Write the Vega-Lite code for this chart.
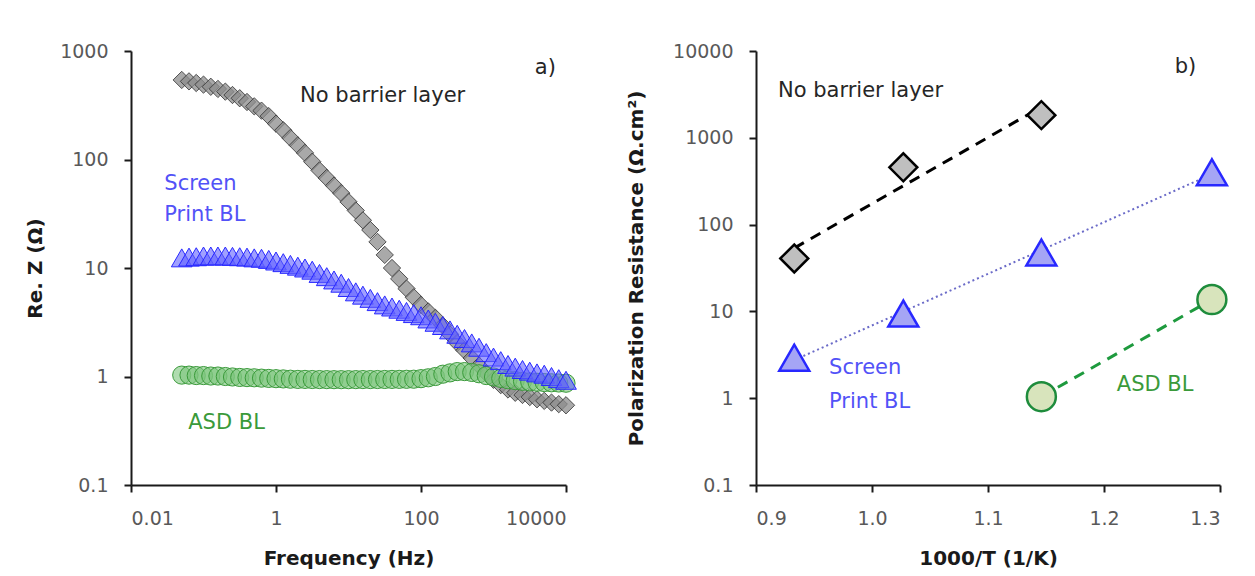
{
"$schema": "https://vega.github.io/schema/vega-lite/v6.json",
"autosize": {"type": "none"},
"padding": {"left": 131, "top": 51, "right": 1124, "bottom": 525},
"background": "white",
"bounds": "flush",
"spacing": 190,
"config": {
  "view": {"stroke": null},
  "font": "DejaVu Sans",
  "axis": {"grid": false, "domainColor": "#1a1a1a", "domainWidth": 2, "tickColor": "#1a1a1a", "tickWidth": 2, "tickSize": 7,
    "labelFont": "DejaVu Sans", "labelFontSize": 19, "labelColor": "#595959",
    "titleFont": "DejaVu Sans", "titleFontSize": 20, "titleFontWeight": "bold", "titleColor": "#1a1a1a"}
},
"datasets": {
  "eis": [
    {"s":"NB","f":0.0501,"z":541},{"s":"NB","f":0.0631,"z":525},{"s":"NB","f":0.0794,"z":507},{"s":"NB","f":0.1,"z":490},{"s":"NB","f":0.126,"z":468},{"s":"NB","f":0.158,"z":447},{"s":"NB","f":0.2,"z":422},{"s":"NB","f":0.251,"z":393},{"s":"NB","f":0.316,"z":367},{"s":"NB","f":0.398,"z":339},{"s":"NB","f":0.501,"z":309},{"s":"NB","f":0.631,"z":282},{"s":"NB","f":0.794,"z":251},{"s":"NB","f":1,"z":214},{"s":"NB","f":1.26,"z":186},{"s":"NB","f":1.58,"z":158},{"s":"NB","f":2,"z":135},{"s":"NB","f":2.51,"z":115},{"s":"NB","f":3.16,"z":95.5},{"s":"NB","f":3.98,"z":79.4},{"s":"NB","f":5.01,"z":67.6},{"s":"NB","f":6.31,"z":57.5},{"s":"NB","f":7.94,"z":49},{"s":"NB","f":10,"z":40.7},{"s":"NB","f":12.6,"z":33.9},{"s":"NB","f":15.8,"z":27.5},{"s":"NB","f":20,"z":22.4},{"s":"NB","f":25.1,"z":17.4},{"s":"NB","f":31.6,"z":13.2},{"s":"NB","f":39.8,"z":10},{"s":"NB","f":50.1,"z":7.94},{"s":"NB","f":63.1,"z":6.46},{"s":"NB","f":79.4,"z":5.37},{"s":"NB","f":100,"z":4.57},{"s":"NB","f":126,"z":3.98},{"s":"NB","f":158,"z":3.47},{"s":"NB","f":200,"z":2.95},{"s":"NB","f":251,"z":2.45},{"s":"NB","f":316,"z":2.04},{"s":"NB","f":398,"z":1.74},{"s":"NB","f":501,"z":1.48},{"s":"NB","f":631,"z":1.26},{"s":"NB","f":794,"z":1.07},{"s":"NB","f":1000,"z":0.933},{"s":"NB","f":1259,"z":0.832},{"s":"NB","f":1585,"z":0.759},{"s":"NB","f":1995,"z":0.708},{"s":"NB","f":2512,"z":0.676},{"s":"NB","f":3162,"z":0.646},{"s":"NB","f":3981,"z":0.617},{"s":"NB","f":5012,"z":0.596},{"s":"NB","f":6310,"z":0.575},{"s":"NB","f":7943,"z":0.556},{"s":"NB","f":10000,"z":0.543},
    {"s":"ASD","f":0.0501,"z":1.03},{"s":"ASD","f":0.0631,"z":1.03},{"s":"ASD","f":0.0794,"z":1.02},{"s":"ASD","f":0.1,"z":1.02},{"s":"ASD","f":0.126,"z":1.01},{"s":"ASD","f":0.158,"z":1.01},{"s":"ASD","f":0.2,"z":1.0},{"s":"ASD","f":0.251,"z":0.99},{"s":"ASD","f":0.316,"z":0.98},{"s":"ASD","f":0.398,"z":0.977},{"s":"ASD","f":0.501,"z":0.973},{"s":"ASD","f":0.631,"z":0.966},{"s":"ASD","f":0.794,"z":0.96},{"s":"ASD","f":1,"z":0.955},{"s":"ASD","f":1.26,"z":0.95},{"s":"ASD","f":1.58,"z":0.944},{"s":"ASD","f":2,"z":0.94},{"s":"ASD","f":2.51,"z":0.94},{"s":"ASD","f":3.16,"z":0.938},{"s":"ASD","f":3.98,"z":0.937},{"s":"ASD","f":5.01,"z":0.936},{"s":"ASD","f":6.31,"z":0.935},{"s":"ASD","f":7.94,"z":0.935},{"s":"ASD","f":10,"z":0.935},{"s":"ASD","f":12.6,"z":0.936},{"s":"ASD","f":15.8,"z":0.937},{"s":"ASD","f":20,"z":0.937},{"s":"ASD","f":25.1,"z":0.938},{"s":"ASD","f":31.6,"z":0.939},{"s":"ASD","f":39.8,"z":0.94},{"s":"ASD","f":50.1,"z":0.941},{"s":"ASD","f":63.1,"z":0.942},{"s":"ASD","f":79.4,"z":0.944},{"s":"ASD","f":100,"z":0.955},{"s":"ASD","f":126,"z":0.973},{"s":"ASD","f":158,"z":1.0},{"s":"ASD","f":200,"z":1.05},{"s":"ASD","f":251,"z":1.08},{"s":"ASD","f":316,"z":1.11},{"s":"ASD","f":398,"z":1.11},{"s":"ASD","f":501,"z":1.09},{"s":"ASD","f":631,"z":1.06},{"s":"ASD","f":794,"z":1.02},{"s":"ASD","f":1000,"z":0.99},{"s":"ASD","f":1259,"z":0.96},{"s":"ASD","f":1585,"z":0.933},{"s":"ASD","f":1995,"z":0.916},{"s":"ASD","f":2512,"z":0.902},{"s":"ASD","f":3162,"z":0.891},{"s":"ASD","f":3981,"z":0.885},{"s":"ASD","f":5012,"z":0.879},{"s":"ASD","f":6310,"z":0.875},{"s":"ASD","f":7943,"z":0.871},{"s":"ASD","f":10000,"z":0.867},
    {"s":"SP","f":0.0501,"z":12.4},{"s":"SP","f":0.0631,"z":12.6},{"s":"SP","f":0.0794,"z":12.7},{"s":"SP","f":0.1,"z":12.9},{"s":"SP","f":0.126,"z":12.9},{"s":"SP","f":0.158,"z":12.9},{"s":"SP","f":0.2,"z":12.9},{"s":"SP","f":0.251,"z":12.8},{"s":"SP","f":0.316,"z":12.7},{"s":"SP","f":0.398,"z":12.6},{"s":"SP","f":0.501,"z":12.4},{"s":"SP","f":0.631,"z":12.3},{"s":"SP","f":0.794,"z":12.0},{"s":"SP","f":1,"z":11.6},{"s":"SP","f":1.26,"z":11.2},{"s":"SP","f":1.58,"z":10.8},{"s":"SP","f":2,"z":10.4},{"s":"SP","f":2.51,"z":10.0},{"s":"SP","f":3.16,"z":9.55},{"s":"SP","f":3.98,"z":8.91},{"s":"SP","f":5.01,"z":8.32},{"s":"SP","f":6.31,"z":7.76},{"s":"SP","f":7.94,"z":7.24},{"s":"SP","f":10,"z":6.61},{"s":"SP","f":12.6,"z":6.03},{"s":"SP","f":15.8,"z":5.62},{"s":"SP","f":20,"z":5.25},{"s":"SP","f":25.1,"z":4.9},{"s":"SP","f":31.6,"z":4.57},{"s":"SP","f":39.8,"z":4.37},{"s":"SP","f":50.1,"z":4.17},{"s":"SP","f":63.1,"z":3.98},{"s":"SP","f":79.4,"z":3.8},{"s":"SP","f":100,"z":3.63},{"s":"SP","f":126,"z":3.39},{"s":"SP","f":158,"z":3.16},{"s":"SP","f":200,"z":2.95},{"s":"SP","f":251,"z":2.69},{"s":"SP","f":316,"z":2.45},{"s":"SP","f":398,"z":2.24},{"s":"SP","f":501,"z":2.04},{"s":"SP","f":631,"z":1.86},{"s":"SP","f":794,"z":1.66},{"s":"SP","f":1000,"z":1.51},{"s":"SP","f":1259,"z":1.4},{"s":"SP","f":1585,"z":1.29},{"s":"SP","f":1995,"z":1.22},{"s":"SP","f":2512,"z":1.16},{"s":"SP","f":3162,"z":1.12},{"s":"SP","f":3981,"z":1.08},{"s":"SP","f":5012,"z":1.05},{"s":"SP","f":6310,"z":1.0},{"s":"SP","f":7943,"z":0.955},{"s":"SP","f":10000,"z":0.923}
  ],
  "labelsA": [
    {"t":"No barrier layer","s":"NB","f":2.15,"z":385},
    {"t":"a)","s":"NB","f":3715,"z":697},
    {"t":"Screen","s":"SP","f":0.0288,"z":59.4},
    {"t":"Print BL","s":"SP","f":0.0288,"z":30.8},
    {"t":"ASD BL","s":"ASD","f":0.0615,"z":0.373}
  ],
  "rp": [
    {"s":"NB","x":0.933,"r":40.7},{"s":"NB","x":1.027,"r":457},{"s":"NB","x":1.146,"r":1824},
    {"s":"SP","x":0.933,"r":2.93},{"s":"SP","x":1.027,"r":9.44},{"s":"SP","x":1.146,"r":47.7},{"s":"SP","x":1.293,"r":401},
    {"s":"ASD","x":1.146,"r":1.04},{"s":"ASD","x":1.293,"r":13.7}
  ],
  "fit": [
    {"s":"NB","x":0.933,"r":53.6},{"s":"NB","x":1.146,"r":2265},
    {"s":"SP","x":0.933,"r":2.75},{"s":"SP","x":1.293,"r":381},
    {"s":"ASD","x":1.146,"r":1.04},{"s":"ASD","x":1.293,"r":13.7}
  ],
  "labelsB": [
    {"t":"No barrier layer","s":"NB","x":0.919,"r":3450},
    {"t":"b)","s":"NB","x":1.261,"r":6535},
    {"t":"Screen","s":"SP","x":0.963,"r":2.24},
    {"t":"Print BL","s":"SP","x":0.963,"r":0.91},
    {"t":"ASD BL","s":"ASD","x":1.211,"r":1.43}
  ]
},
"hconcat": [
  {
    "width": 435, "height": 434,
    "encoding": {
      "x": {"field": "f", "type": "quantitative", "scale": {"type": "log", "domain": [0.01, 10000], "nice": false},
        "axis": {"values": [0.01, 1, 100, 10000], "format": "~g", "title": "Frequency (Hz)", "labelPadding": 17, "titleY": 73, "titleBaseline": "middle"}},
      "y": {"field": "z", "type": "quantitative", "scale": {"type": "log", "domain": [0.1, 1000], "nice": false},
        "axis": {"values": [0.1, 1, 10, 100, 1000], "format": "~g", "title": "Re. Z (Ω)", "labelPadding": 16, "titleX": -96, "titleY": 217, "titleAngle": -90, "titleAlign": "center", "titleBaseline": "middle"}}
    },
    "layer": [
      {"data": {"name": "eis"}, "transform": [{"filter": "datum.s === 'NB'"}],
        "mark": {"type": "point", "shape": "diamond", "filled": true, "size": 300, "fill": "#8c8c8c", "fillOpacity": 0.75, "stroke": "#333333", "strokeWidth": 0.9, "strokeOpacity": 0.9}},
      {"data": {"name": "eis"}, "transform": [{"filter": "datum.s === 'ASD'"}],
        "mark": {"type": "point", "shape": "circle", "filled": true, "size": 330, "fill": "#7cc47c", "fillOpacity": 0.6, "stroke": "#3a9a3a", "strokeWidth": 1}},
      {"data": {"name": "eis"}, "transform": [{"filter": "datum.s === 'SP'"}],
        "mark": {"type": "point", "shape": "triangle-up", "filled": true, "size": 430, "fill": "#6060ff", "fillOpacity": 0.6, "stroke": "#2828ff", "strokeWidth": 1}},
      {"data": {"name": "labelsA"},
        "mark": {"type": "text", "align": "left", "baseline": "middle", "font": "DejaVu Sans", "fontSize": 21},
        "encoding": {"text": {"field": "t"},
          "color": {"field": "s", "type": "nominal", "scale": {"domain": ["NB", "SP", "ASD"], "range": ["#262626", "#5252f7", "#3a9a3a"]}, "legend": null}}}
    ]
  },
  {
    "width": 464, "height": 434,
    "encoding": {
      "x": {"field": "x", "type": "quantitative", "scale": {"domain": [0.9, 1.3], "nice": false, "zero": false},
        "axis": {"values": [0.9, 1.0, 1.1, 1.2, 1.3], "format": ".1f", "title": "1000/T (1/K)", "labelPadding": 17, "titleY": 73, "titleBaseline": "middle"}},
      "y": {"field": "r", "type": "quantitative", "scale": {"type": "log", "domain": [0.1, 10000], "nice": false},
        "axis": {"values": [0.1, 1, 10, 100, 1000, 10000], "format": "~g", "title": "Polarization Resistance (Ω.cm²)", "labelPadding": 16, "titleX": -120, "titleY": 217, "titleAngle": -90, "titleAlign": "center", "titleBaseline": "middle"}}
    },
    "layer": [
      {"data": {"name": "fit"}, "transform": [{"filter": "datum.s === 'NB'"}],
        "mark": {"type": "line", "color": "#000000", "strokeWidth": 3, "strokeDash": [11, 8]}},
      {"data": {"name": "fit"}, "transform": [{"filter": "datum.s === 'SP'"}],
        "mark": {"type": "line", "color": "#6b6bc8", "strokeWidth": 2, "strokeDash": [2, 3]}},
      {"data": {"name": "fit"}, "transform": [{"filter": "datum.s === 'ASD'"}],
        "mark": {"type": "line", "color": "#1e9a3e", "strokeWidth": 3, "strokeDash": [11, 8]}},
      {"data": {"name": "rp"}, "transform": [{"filter": "datum.s === 'NB'"}],
        "mark": {"type": "point", "shape": "diamond", "filled": true, "size": 780, "fill": "#bfbfbf", "fillOpacity": 1, "stroke": "#000000", "strokeWidth": 2.5}},
      {"data": {"name": "rp"}, "transform": [{"filter": "datum.s === 'SP'"}],
        "mark": {"type": "point", "shape": "triangle-up", "filled": true, "size": 900, "fill": "#a5a5f5", "fillOpacity": 1, "stroke": "#2828ff", "strokeWidth": 2.5}},
      {"data": {"name": "rp"}, "transform": [{"filter": "datum.s === 'ASD'"}],
        "mark": {"type": "point", "shape": "circle", "filled": true, "size": 840, "fill": "#d8e4bc", "fillOpacity": 1, "stroke": "#1e8c3c", "strokeWidth": 2.5}},
      {"data": {"name": "labelsB"},
        "mark": {"type": "text", "align": "left", "baseline": "middle", "font": "DejaVu Sans", "fontSize": 21},
        "encoding": {"text": {"field": "t"},
          "color": {"field": "s", "type": "nominal", "scale": {"domain": ["NB", "SP", "ASD"], "range": ["#262626", "#5252f7", "#3a9a3a"]}, "legend": null}}}
    ]
  }
]
}
